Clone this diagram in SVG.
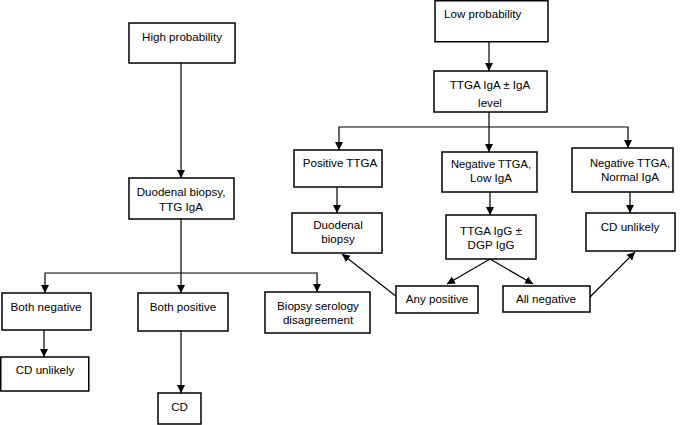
<svg xmlns="http://www.w3.org/2000/svg" width="685" height="425" viewBox="0 0 685 425">
<defs>
<marker id="ah" markerUnits="userSpaceOnUse" markerWidth="8" markerHeight="9" viewBox="0 0 8 9" refX="8" refY="4.5" orient="auto">
<path d="M0,0.5 L8,4.5 L0,8.5 Z" fill="#000"/>
</marker>
<style>
rect{fill:#fff;stroke:#000;stroke-width:1.5}
text{font-family:"Liberation Sans",Arial,sans-serif;font-size:11.6px;fill:#000;text-anchor:middle}
.c line,.c polyline{stroke:#000;stroke-width:1.2;fill:none}
.a{marker-end:url(#ah)}
</style>
</defs>
<rect x="0" y="0" width="685" height="425" style="fill:#fff;stroke:none"/>
<g class="c" id="connectors">
<line class="a" x1="181" y1="63" x2="181" y2="178"/>
<line class="a" x1="181" y1="219" x2="181" y2="293"/>
<polyline class="a" points="181,273 45,273 45,293"/>
<polyline class="a" points="181,273 317,273 317,292"/>
<line class="a" x1="44" y1="330" x2="44" y2="357"/>
<line class="a" x1="181" y1="331" x2="181" y2="393"/>
<line class="a" x1="489" y1="42" x2="489" y2="71"/>
<line class="a" x1="489" y1="112" x2="489" y2="152"/>
<polyline class="a" points="489,127 339,127 339,150"/>
<polyline class="a" points="489,127 628,127 628,148"/>
<line class="a" x1="337" y1="187" x2="337" y2="213"/>
<line class="a" x1="490" y1="192" x2="490" y2="215"/>
<line class="a" x1="630" y1="192" x2="630" y2="213"/>
<line class="a" x1="490" y1="259" x2="447" y2="284"/>
<line class="a" x1="490" y1="259" x2="533" y2="284"/>
<line class="a" x1="397" y1="297" x2="342" y2="254"/>
<line class="a" x1="590" y1="297" x2="635" y2="252"/>
</g>
<g id="high"><rect x="129" y="23" width="106" height="40"/><text x="182" y="41">High probability</text></g>
<g id="duo1"><rect x="129" y="178" width="105" height="41"/><text x="181" y="196">Duodenal biopsy,</text><text x="181" y="211">TTG IgA</text></g>
<g id="bothneg"><rect x="2" y="293" width="89" height="37"/><text x="46" y="311">Both negative</text></g>
<g id="cdunl1"><rect x="0.75" y="357" width="88" height="34"/><text x="45" y="374">CD unlikely</text></g>
<g id="bothpos"><rect x="138" y="293" width="90" height="38"/><text x="183" y="311">Both positive</text></g>
<g id="cd"><rect x="158" y="393" width="43" height="31"/><text x="179.5" y="411">CD</text></g>
<g id="biopsyser"><rect x="265" y="292" width="105" height="41"/><text x="318" y="310">Biopsy serology</text><text x="318" y="324">disagreement</text></g>
<g id="low"><rect x="435" y="0.75" width="113" height="41"/><text x="444" y="18" style="text-anchor:start">Low probability</text></g>
<g id="ttga"><rect x="434" y="71" width="113" height="41"/><text x="490" y="89">TTGA IgA ± IgA</text><text x="490" y="107">level</text></g>
<g id="posttga"><rect x="294" y="150" width="88" height="37"/><text x="340" y="167">Positive TTGA</text></g>
<g id="neglow"><rect x="442" y="152" width="95" height="40"/><text x="491" y="168" textLength="80" lengthAdjust="spacingAndGlyphs">Negative TTGA,</text><text x="491" y="182">Low IgA</text></g>
<g id="negnorm"><rect x="572" y="148" width="101" height="44"/><text x="630" y="167" textLength="80" lengthAdjust="spacingAndGlyphs">Negative TTGA,</text><text x="630" y="181">Normal IgA</text></g>
<g id="duo2"><rect x="292" y="213" width="90" height="40"/><text x="338" y="229">Duodenal</text><text x="338" y="243">biopsy</text></g>
<g id="ttgaigg"><rect x="446" y="215" width="90" height="44"/><text x="491" y="235">TTGA IgG ±</text><text x="491" y="249">DGP IgG</text></g>
<g id="cdunl2"><rect x="586" y="213" width="89" height="38"/><text x="630" y="231">CD unlikely</text></g>
<g id="anypos"><rect x="396" y="286" width="82" height="27"/><text x="437" y="303">Any positive</text></g>
<g id="allneg"><rect x="503" y="286" width="87" height="26"/><text x="546" y="303">All negative</text></g>
</svg>
